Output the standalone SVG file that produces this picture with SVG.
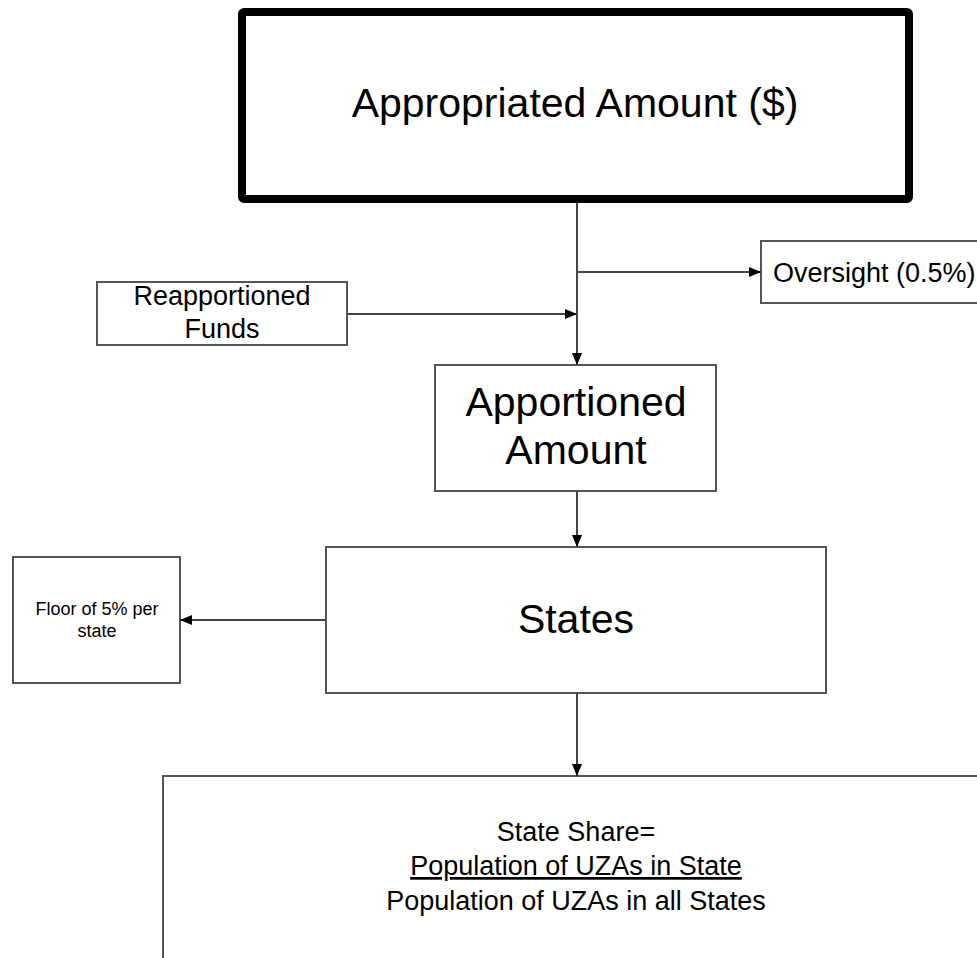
<svg xmlns="http://www.w3.org/2000/svg" width="977" height="958" viewBox="0 0 977 958">
<style>
.box{fill:#fff;stroke:#555;stroke-width:2}
.t{font-family:"Liberation Sans",Arial,sans-serif;fill:#000;text-anchor:middle}
.c{fill:none;stroke:#444;stroke-width:2}
</style>
<defs>
<marker id="ah" viewBox="0 0 10 10" refX="10" refY="5" markerWidth="12" markerHeight="12" orient="auto" markerUnits="userSpaceOnUse">
<path d="M0,0.8 L10,5 L0,9.2 z" fill="#000"/>
</marker>
</defs>
<rect width="977" height="958" fill="#fff"/>
<g id="appropriated">
<rect x="242" y="12" width="667" height="187" fill="#fff" stroke="#000" stroke-width="8" rx="2"/>
<text class="t" x="575" y="117" font-size="41">Appropriated Amount ($)</text>
</g>
<g id="oversight">
<rect class="box" x="761" y="241" width="230" height="62"/>
<text class="t" x="773" y="282" font-size="27" style="text-anchor:start">Oversight (0.5%)</text>
</g>
<g id="reapportioned">
<rect class="box" x="97" y="282" width="250" height="63"/>
<text class="t" x="222" y="305" font-size="27">Reapportioned</text>
<text class="t" x="222" y="338" font-size="27">Funds</text>
</g>
<g id="apportioned">
<rect class="box" x="435" y="365" width="281" height="126"/>
<text class="t" x="576" y="416" font-size="41">Apportioned</text>
<text class="t" x="576" y="464" font-size="41">Amount</text>
</g>
<g id="states">
<rect class="box" x="326" y="547" width="500" height="146"/>
<text class="t" x="576" y="633" font-size="41">States</text>
</g>
<g id="floor">
<rect class="box" x="13" y="557" width="167" height="126"/>
<text class="t" x="97" y="615" font-size="18">Floor of 5% per</text>
<text class="t" x="97" y="637" font-size="18">state</text>
</g>
<g id="stateshare">
<rect class="box" x="163" y="776" width="830" height="200"/>
<text class="t" x="576" y="841" font-size="27">State Share=</text>
<text class="t" x="576" y="875" font-size="27" text-decoration="underline">Population of UZAs in State</text>
<text class="t" x="576" y="910" font-size="27">Population of UZAs in all States</text>
</g>
<g id="connectors">
<path class="c" d="M577,203 V365" marker-end="url(#ah)"/>
<path class="c" d="M577,272 H761" marker-end="url(#ah)"/>
<path class="c" d="M347,314 H577" marker-end="url(#ah)"/>
<path class="c" d="M577,491 V547" marker-end="url(#ah)"/>
<path class="c" d="M326,620 H180" marker-end="url(#ah)"/>
<path class="c" d="M577,693 V776" marker-end="url(#ah)"/>
</g>
</svg>
